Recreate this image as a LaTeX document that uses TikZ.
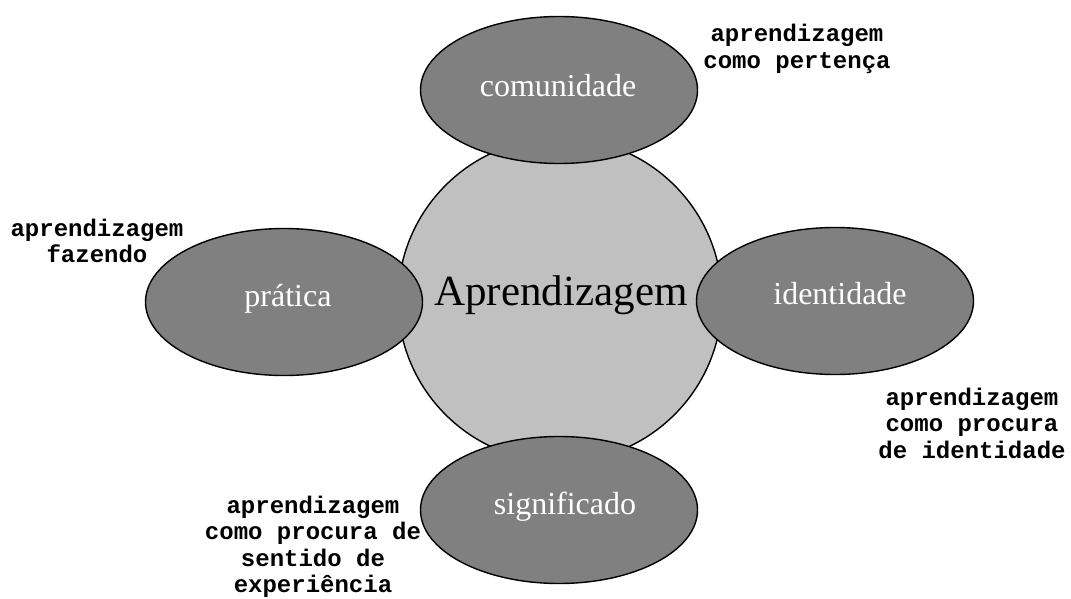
\documentclass[tikz,border=0pt]{standalone}
\usepackage{fontspec}
\setmainfont{Liberation Serif}
\newfontfamily\courfont{Liberation Mono}
\usetikzlibrary{shapes.geometric}

\definecolor{hubgray}{RGB}{192,192,192}
\definecolor{petalgray}{RGB}{128,128,128}

\tikzset{
  hub/.style={circle, draw=black, line width=1.4pt, fill=hubgray,
    minimum size=324pt, inner sep=0pt},
  petal/.style={ellipse, draw=black, line width=1.4pt, fill=petalgray,
    minimum width=277pt, minimum height=147pt, inner sep=0pt},
  petaltext/.style={anchor=base, text=white, inner sep=0pt,
    font=\fontsize{32}{38}\selectfont},
  hubtext/.style={anchor=base, inner sep=0pt,
    font=\fontsize{43}{50}\selectfont},
  note/.style={align=center, inner sep=0pt,
    font=\courfont\bfseries\fontsize{24}{26.5}\selectfont}
}

\begin{document}
\begin{tikzpicture}[x=1pt,y=-1pt]
\useasboundingbox (0,0) rectangle (1071,599);

% central circle
\node[hub] (hub) at (560,300) {};
\node[hubtext] (hubt) at ([xshift=1pt,yshift=-5pt]hub.center) {Aprendizagem};

% the four ellipses around it
\node[petal] (com) at (559,90) {};
\node[petal] (pra) at (284,302) {};
\node[petal] (ide) at (835,301) {};
\node[petal] (sig) at (559,510) {};

\node[petaltext] (comt) at ([xshift=-1pt,yshift=-7pt]com.center) {comunidade};
\node[petaltext] (prat) at ([xshift=4pt,yshift=-4pt]pra.center) {prática};
\node[petaltext] (idet) at ([xshift=5pt,yshift=-3pt]ide.center) {identidade};
\node[petaltext] (sigt) at ([xshift=6pt,yshift=-4pt]sig.center) {significado};

% side notes
\node[note] (ncom) at (797,49) {aprendizagem\\como pertença};
\node[note] (npra) at (97,241) {aprendizagem\\fazendo};
\node[note] (nide) at (972,423) {aprendizagem\\como procura\\de identidade};
\node[note] (nsig) at (313,547) {aprendizagem\\como procura de\\sentido de\\experiência};
\end{tikzpicture}
\end{document}
